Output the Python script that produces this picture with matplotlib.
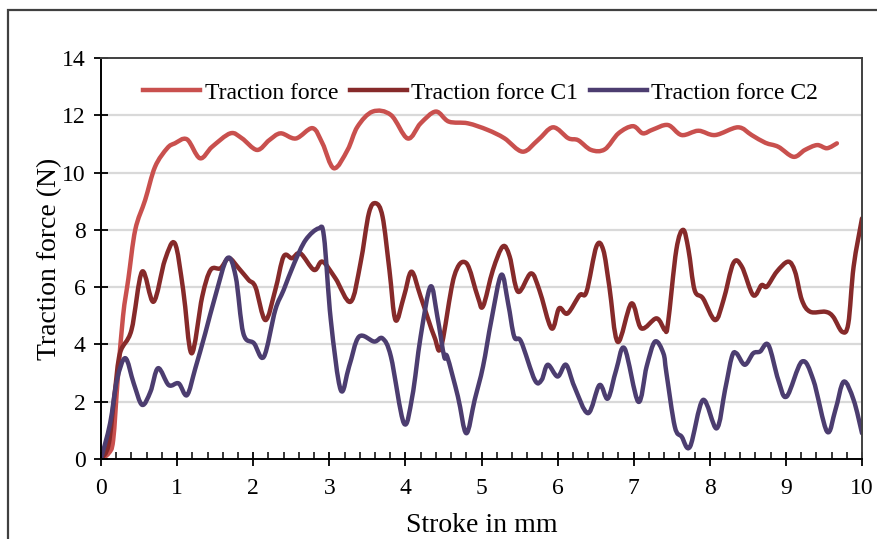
import matplotlib
matplotlib.use('Agg')
import matplotlib.pyplot as plt
import matplotlib.patches as patches
from matplotlib.path import Path
from matplotlib.lines import Line2D
from matplotlib.ticker import MultipleLocator

plt.rcParams['font.family'] = ['Liberation Serif', 'DejaVu Serif']

names = ('Traction force', 'Traction force C1', 'Traction force C2')

x_tf = [0, 0.1, 0.16, 0.22, 0.29, 0.36, 0.45, 0.58, 0.71, 0.87,
        0.97, 1.13, 1.30, 1.46, 1.70, 1.85, 2.05, 2.21, 2.36, 2.56,
        2.78, 2.91, 3.06, 3.24, 3.37, 3.57, 3.81, 4.03, 4.20, 4.40,
        4.57, 4.82, 5.08, 5.30, 5.54, 5.74, 5.94, 6.14, 6.27, 6.44,
        6.62, 6.80, 6.99, 7.12, 7.25, 7.45, 7.63, 7.85, 8.07, 8.37,
        8.55, 8.73, 8.90, 9.10, 9.25, 9.41, 9.54, 9.67]
y_tf = [0, 0.2, 0.66, 2.8, 5.0, 6.3, 8.0, 9.04, 10.2, 10.85,
        11.02, 11.16, 10.5, 10.9, 11.37, 11.2, 10.79, 11.13, 11.37, 11.19,
        11.55, 11.02, 10.15, 10.79, 11.6, 12.13, 12.01, 11.19, 11.72, 12.13,
        11.78, 11.72, 11.49, 11.2, 10.73, 11.13, 11.58, 11.2, 11.13, 10.79,
        10.81, 11.37, 11.62, 11.37, 11.5, 11.66, 11.31, 11.46, 11.31, 11.58,
        11.31, 11.04, 10.9, 10.55, 10.79, 10.96, 10.85, 11.02]

x_c1 = [0, 0.1, 0.18, 0.25, 0.40, 0.54, 0.69, 0.84, 0.97, 1.08,
        1.19, 1.33, 1.44, 1.57, 1.68, 1.81, 1.94, 2.03, 2.16, 2.29,
        2.40, 2.51, 2.62, 2.80, 2.91, 3.08, 3.28, 3.41, 3.52, 3.61,
        3.70, 3.79, 3.87, 3.98, 4.08, 4.20, 4.38, 4.47, 4.64, 4.80,
        4.95, 5.02, 5.15, 5.28, 5.37, 5.48, 5.65, 5.76, 5.92, 6.02,
        6.13, 6.29, 6.38, 6.51, 6.60, 6.68, 6.79, 6.97, 7.10, 7.30,
        7.41, 7.45, 7.56, 7.65, 7.72, 7.80, 7.91, 8.07, 8.18, 8.31,
        8.42, 8.57, 8.68, 8.75, 8.88, 9.03, 9.12, 9.21, 9.32, 9.52,
        9.62, 9.74, 9.82, 9.89, 10.0]
y_c1 = [0, 0.5, 2.3, 3.7, 4.5, 6.54, 5.49, 6.95, 7.53, 5.9,
        3.69, 5.67, 6.6, 6.66, 7.01, 6.66, 6.25, 6.0, 4.85, 5.9,
        7.07, 7.01, 7.18, 6.6, 6.89, 6.31, 5.49, 6.84, 8.58, 8.93,
        8.46, 6.6, 4.85, 5.67, 6.54, 5.67, 4.27, 3.92, 6.37, 6.84,
        5.67, 5.33, 6.6, 7.42, 7.07, 5.84, 6.48, 5.9, 4.56, 5.26,
        5.08, 5.72, 5.84, 7.42, 7.3, 6.02, 4.09, 5.43, 4.56, 4.91,
        4.5, 4.73, 7.3, 8.0, 7.3, 5.9, 5.61, 4.85, 5.55, 6.84,
        6.72, 5.72, 6.07, 6.02, 6.54, 6.89, 6.54, 5.55, 5.14, 5.14,
        4.97, 4.44, 4.73, 6.72, 8.4]

x_c2 = [0, 0.12, 0.21, 0.32, 0.43, 0.54, 0.65, 0.75, 0.89, 1.02,
        1.13, 1.24, 1.37, 1.50, 1.66, 1.77, 1.87, 2.01, 2.14, 2.29,
        2.40, 2.54, 2.69, 2.86, 2.93, 3.02, 3.15, 3.26, 3.39, 3.59,
        3.70, 3.81, 3.98, 4.09, 4.20, 4.33, 4.42, 4.51, 4.55, 4.69,
        4.80, 4.91, 5.02, 5.13, 5.26, 5.35, 5.43, 5.52, 5.70, 5.79,
        5.87, 6.00, 6.11, 6.22, 6.40, 6.55, 6.66, 6.77, 6.88, 7.06,
        7.17, 7.28, 7.39, 7.43, 7.54, 7.63, 7.74, 7.91, 8.09, 8.20,
        8.29, 8.35, 8.46, 8.57, 8.66, 8.77, 8.90, 9.01, 9.21, 9.36,
        9.54, 9.65, 9.76, 9.89, 10.0]
y_c2 = [0, 1.25, 2.76, 3.52, 2.64, 1.89, 2.35, 3.17, 2.58, 2.64,
        2.23, 3.17, 4.39, 5.67, 7.01, 6.37, 4.39, 4.04, 3.57, 5.2,
        5.9, 6.84, 7.65, 8.05, 7.76, 4.85, 2.41, 3.23, 4.27, 4.1,
        4.21, 3.57, 1.25, 2.18, 4.27, 6.02, 4.97, 3.57, 3.57, 2.18,
        0.9, 2.06, 3.23, 4.85, 6.43, 5.43, 4.27, 4.1, 2.76, 2.76,
        3.29, 2.88, 3.29, 2.53, 1.6, 2.58, 2.11, 3.11, 3.86, 2.0,
        3.23, 4.1, 3.69, 3.0, 1.13, 0.78, 0.43, 2.06, 1.07, 2.41,
        3.57, 3.69, 3.29, 3.69, 3.75, 3.98, 2.76, 2.18, 3.4, 2.76,
        0.96, 1.71, 2.7, 2.06, 0.9]

colors = ('#C9504E', '#862A2A', '#4C3D70')


def smooth_path(xs, ys, k=1 / 6):
    # Excel-style "smoothed line": cubic Bezier through every data point
    verts = [(xs[0], ys[0])]
    codes = [Path.MOVETO]
    n = len(xs)
    for i in range(n - 1):
        x0, y0 = xs[max(i - 1, 0)], ys[max(i - 1, 0)]
        x1, y1 = xs[i], ys[i]
        x2, y2 = xs[i + 1], ys[i + 1]
        x3, y3 = xs[min(i + 2, n - 1)], ys[min(i + 2, n - 1)]
        verts += [(x1 + (x2 - x0) * k, y1 + (y2 - y0) * k),
                  (x2 - (x3 - x1) * k, y2 - (y3 - y1) * k),
                  (x2, y2)]
        codes += [Path.CURVE4] * 3
    return Path(verts, codes)


fig = plt.figure(figsize=(8.78, 5.39), dpi=100)
ax = fig.add_axes([101 / 878, 1 - 459 / 539, 761 / 878, 401 / 539])

# outer chart border (only left/top visible in the crop)
fig.patches.append(patches.Rectangle((8 / 878, -0.1), 1.2, 1.1 - 10 / 539,
                                     transform=fig.transFigure, fill=False,
                                     edgecolor='#404040', linewidth=1.6))

for y in range(2, 14, 2):
    ax.axhline(y, color='#D9D9D9', linewidth=1.6, zorder=0)

handles = []
for xs, ys, c, nm in ((x_tf, y_tf, colors[0], names[0]),
                      (x_c1, y_c1, colors[1], names[1]),
                      (x_c2, y_c2, colors[2], names[2])):
    ax.add_patch(patches.PathPatch(smooth_path(xs, ys), fill=False, edgecolor=c,
                                   linewidth=3.2, capstyle='round', joinstyle='round'))
    handles.append(Line2D([], [], color=c, linewidth=3.2, label=nm))

ax.set_xlim(0, 10)
ax.set_ylim(0, 14)
ax.xaxis.set_major_locator(MultipleLocator(1))
ax.xaxis.set_minor_locator(MultipleLocator(0.2))
ax.yaxis.set_major_locator(MultipleLocator(2))

ax.tick_params(axis='x', which='major', direction='inout', length=10, width=1.3, labelsize=17, pad=9)
ax.tick_params(axis='x', which='minor', direction='in', length=5, width=1.1)
ax.tick_params(axis='y', which='major', direction='inout', length=10, width=1.3, labelsize=17, pad=6)
ax.tick_params(top=False, right=False)

for s in ('left', 'bottom'):
    ax.spines[s].set_color('black')
    ax.spines[s].set_linewidth(1.4)
for s in ('top', 'right'):
    ax.spines[s].set_color('#404040')
    ax.spines[s].set_linewidth(1.4)

ax.set_xlabel('Stroke in mm', fontsize=20, labelpad=10)
ax.set_ylabel('Traction force (N)', fontsize=20, labelpad=0)

ax.legend(handles=handles, loc='center', bbox_to_anchor=(0.499, 0.913), ncol=3, frameon=False,
          fontsize=17, handlelength=2.4, handletextpad=0.2, columnspacing=0.5,
          borderpad=0, borderaxespad=0)

fig.savefig('out.png', dpi=100)
